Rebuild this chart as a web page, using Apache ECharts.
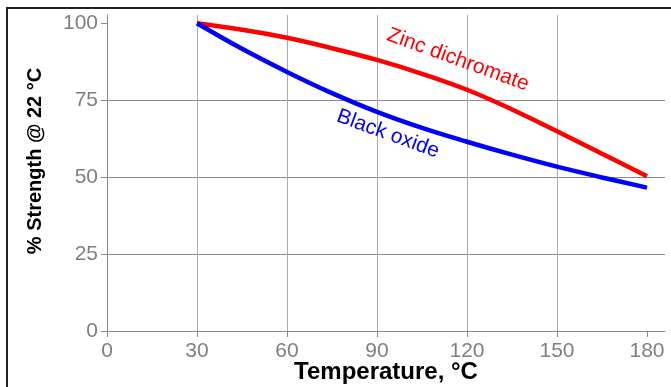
<!DOCTYPE html>
<html>
<head>
<meta charset="utf-8">
<script src="https://cdn.jsdelivr.net/npm/echarts@6/dist/echarts.min.js"></script>
<style>
  html, body { margin: 0; padding: 0; background: #fff; }
  #chart { width: 671px; height: 387px; }
</style>
</head>
<body>
<div id="chart"></div>
<script>
// temperature, °C
var temps = [30, 45, 60, 75, 90, 105, 120, 135, 150, 165, 180];
// % strength retained at 22 °C
var zincDichromate = [100, 97.9, 95.3, 91.9, 88.1, 83.6, 78.4, 72.0, 64.9, 57.6, 50.3];
var blackOxide = [100, 91.7, 84.2, 77.3, 71.2, 66.0, 61.5, 57.3, 53.4, 49.9, 46.6];
var xTicks = [0, 30, 60, 90, 120, 150, 180];
var yTicks = [0, 25, 50, 75, 100];

var font = '"Liberation Sans", Arial, sans-serif';

function pairs(xs, ys) {
  return xs.map(function (x, i) { return [x, ys[i]]; });
}

var chart = echarts.init(document.getElementById('chart'));
chart.setOption({
  animation: false,
  grid: { left: 107, right: 6, top: 15, bottom: 56, outerBoundsMode: 'none' },
  xAxis: {
    type: 'value',
    min: 0,
    max: 186,
    interval: 30,
    name: 'Temperature, °C',
    nameLocation: 'middle',
    nameGap: 29,
    nameMoveOverlap: false,
    nameTextStyle: { fontFamily: font, fontWeight: 'bold', fontSize: 24, color: '#000' },
    axisLine: { lineStyle: { color: '#888', width: 1 } },
    axisTick: { show: true, length: 6, customValues: xTicks, lineStyle: { color: '#888' } },
    axisLabel: { customValues: xTicks, fontFamily: font, fontSize: 21, color: '#808080', margin: 10 },
    splitLine: { show: true, showMaxLine: false, lineStyle: { color: '#aaa', width: 1 } }
  },
  yAxis: {
    type: 'value',
    min: 0,
    max: 102.7,
    interval: 25,
    name: '% Strength @ 22 °C',
    nameLocation: 'middle',
    nameGap: 62,
    nameMoveOverlap: false,
    nameTextStyle: { fontFamily: font, fontWeight: 'bold', fontSize: 20, color: '#000', padding: [0, 0, 0, 24] },
    axisLine: { show: true, lineStyle: { color: '#888', width: 1 } },
    axisTick: { show: true, length: 6, customValues: yTicks, lineStyle: { color: '#888' } },
    axisLabel: { customValues: yTicks, fontFamily: font, fontSize: 21, color: '#808080', margin: 9 },
    splitLine: { show: true, showMaxLine: false, lineStyle: { color: '#888', width: 1 } }
  },
  series: [
    {
      name: 'Zinc dichromate',
      type: 'line',
      smooth: 0.4,
      showSymbol: false,
      lineStyle: { color: '#ff0000', width: 4.5 },
      data: pairs(temps, zincDichromate)
    },
    {
      name: 'Black oxide',
      type: 'line',
      smooth: 0.4,
      showSymbol: false,
      lineStyle: { color: '#0000ff', width: 4.5 },
      data: pairs(temps, blackOxide)
    }
  ]
});

// curve labels, anchored to a data point of each series
var redAt = chart.convertToPixel({ gridIndex: 0 }, [temps[6], zincDichromate[6]]);
var blueAt = chart.convertToPixel({ gridIndex: 0 }, [temps[4], blackOxide[4]]);
var tilt = -20 * Math.PI / 180;

chart.setOption({
  graphic: [
    {
      type: 'polyline',
      shape: { points: [[7, 387], [7, 8], [671, 8]] },
      style: { stroke: '#222', lineWidth: 2, fill: null },
      silent: true
    },
    {
      type: 'text',
      x: redAt[0] - 9,
      y: redAt[1] - 30,
      rotation: tilt,
      style: {
        text: 'Zinc dichromate', fill: '#ff0000', font: '21px ' + font,
        align: 'center', verticalAlign: 'middle'
      }
    },
    {
      type: 'text',
      x: blueAt[0] + 11,
      y: blueAt[1] + 22,
      rotation: tilt,
      style: {
        text: 'Black oxide', fill: '#0000ff', font: '21px ' + font,
        align: 'center', verticalAlign: 'middle'
      }
    }
  ]
});
</script>
</body>
</html>
